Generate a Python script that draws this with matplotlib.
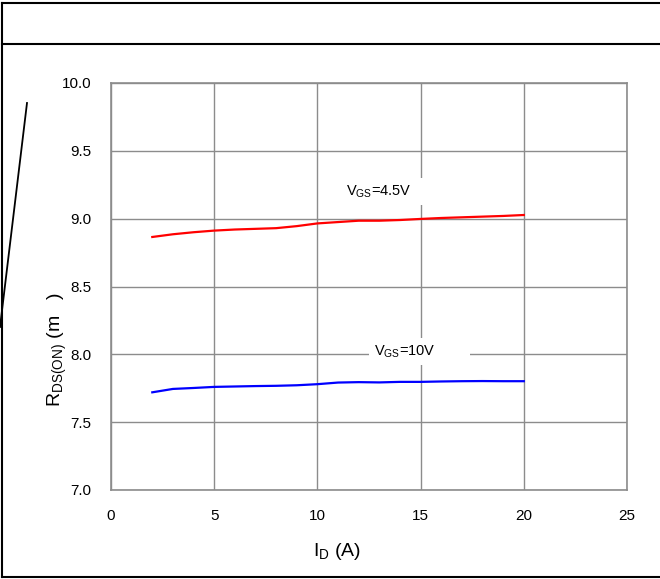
import matplotlib
matplotlib.use("Agg")
import matplotlib.pyplot as plt
from matplotlib.lines import Line2D

plt.rcParams['font.family'] = ['Liberation Sans', 'DejaVu Sans']
plt.rcParams['mathtext.fontset'] = 'custom'
plt.rcParams['mathtext.rm'] = 'Liberation Sans'
plt.rcParams['mathtext.it'] = 'Liberation Sans'
plt.rcParams['mathtext.default'] = 'regular'

# drain current (A)
i_d = [2, 3, 4, 5, 6, 7, 8, 9, 10, 11, 12, 13, 14, 15, 16, 17, 18, 19, 20]
# R_DS(on) (mOhm) at VGS=4.5V
r_45 = [8.865, 8.885, 8.90, 8.912, 8.92, 8.925, 8.93, 8.945, 8.965, 8.975,
        8.985, 8.985, 8.99, 8.998, 9.005, 9.01, 9.015, 9.02, 9.027]
# R_DS(on) (mOhm) at VGS=10V
r_10 = [7.72, 7.745, 7.752, 7.76, 7.763, 7.766, 7.768, 7.772, 7.78, 7.792,
        7.795, 7.793, 7.797, 7.797, 7.80, 7.802, 7.803, 7.802, 7.802]

x_ticks = [0, 5, 10, 15, 20, 25]
y_ticks = [7.0, 7.5, 8.0, 8.5, 9.0, 9.5, 10.0]

fig = plt.figure(figsize=(6.6, 5.79), dpi=100)
W, H = 660.0, 579.0
ax = fig.add_axes([111 / W, 1 - 490 / H, 516 / W, 407 / H])

ax.plot(i_d, r_45, color='#ff0000', lw=1.6, zorder=3)
ax.plot(i_d, r_10, color='#0000ff', lw=1.6, zorder=3)

ax.set_xlim(0, 25)
ax.set_ylim(7.0, 10.0)
ax.set_xticks(x_ticks)
ax.set_yticks(y_ticks)
ax.set_yticklabels(['%.1f' % v for v in y_ticks])
ax.tick_params(length=0, labelsize=11, pad=14)
ax.grid(True, color='#8c8c8c', lw=1.0)
ax.set_axisbelow(True)
for s in ax.spines.values():
    s.set_color('#8c8c8c')
    s.set_linewidth(1.2)

ax.set_xlabel('I$_{D}$ (A)', fontsize=14)
ax.xaxis.set_label_coords((337 - 111) / 516, -(551 - 490) / 407)
ax.xaxis.label.set_va('center')
ax.set_ylabel('R$_{DS(ON)}$ (m   )', fontsize=14, va='center')
ax.yaxis.set_label_coords((57 - 111) / 516, 1 - (350 - 83) / 407)

box = dict(facecolor='white', edgecolor='none', pad=4)
ax.text(11.4, 9.2, 'V$_{GS}$=4.5V      ', fontsize=10.5, va='center', ha='left',
        bbox=box, zorder=2)
ax.text(12.75, 8.02, 'V$_{GS}$=10V        ', fontsize=10.5, va='center', ha='left',
        bbox=box, zorder=2)

# frame of the datasheet figure
def px_line(x0, y0, x1, y1, lw=1.5):
    fig.add_artist(Line2D([x0 / W, x1 / W], [1 - y0 / H, 1 - y1 / H],
                          color='black', lw=lw, transform=fig.transFigure))

px_line(2, 3, 660, 3)
px_line(2, 44, 660, 44)
px_line(2, 577, 660, 577)
px_line(2, 3, 2, 577)
px_line(27, 103, 0, 327, lw=1.3)

fig.savefig('out.png', dpi=100)
